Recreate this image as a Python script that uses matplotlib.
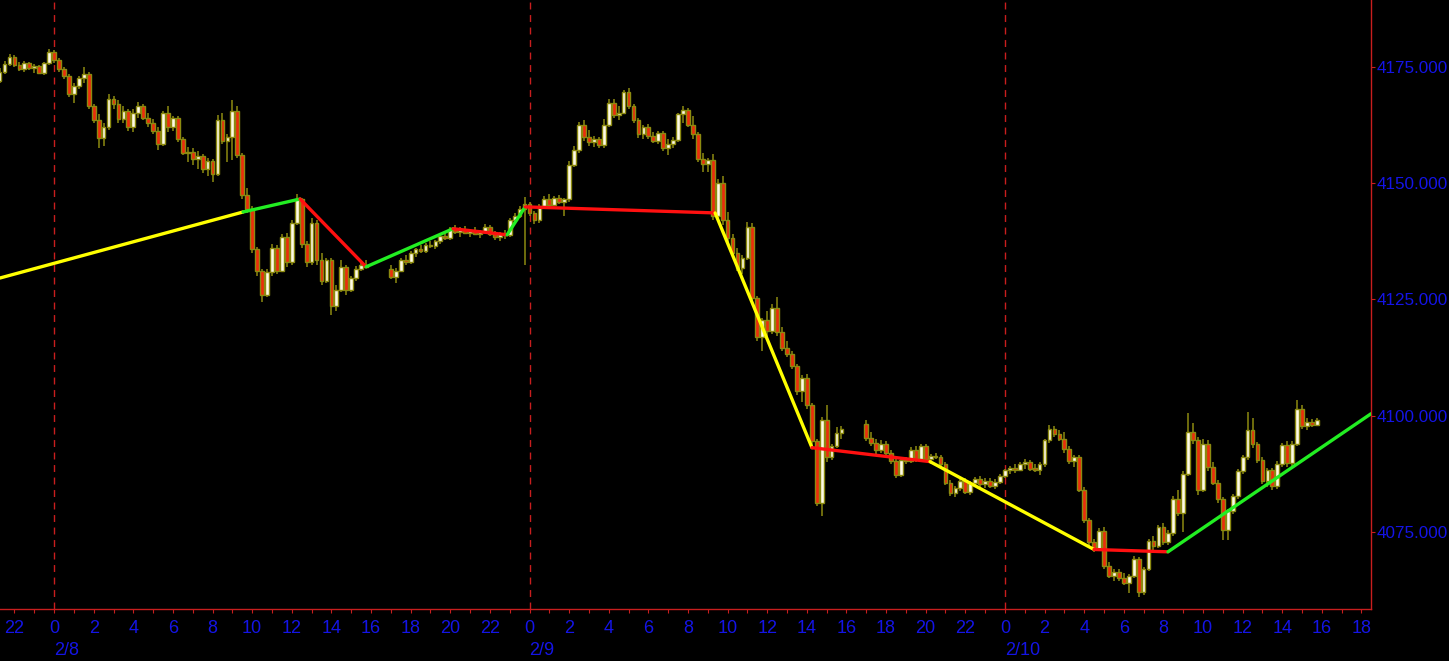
import numpy as np
import matplotlib
matplotlib.use("Agg")
import matplotlib.pyplot as plt
from matplotlib.transforms import blended_transform_factory

# time axis: hours counted from 2/8 00:00, 15-minute bars, three sessions
BAR = 0.25
session_start = [-2.75, 17.0, 41.0]

# session 1 (2/7 evening -> 2/8 16:00)
open_a = [4172.0, 4174.0, 4175.6, 4177.2, 4175.4, 4174.6, 4175.8, 4174.8, 4175.2, 4173.8,
          4175.8, 4178.2, 4176.4, 4174.5, 4173.0, 4169.2, 4171.0, 4172.6, 4173.5, 4166.5,
          4163.5, 4159.8, 4162.0, 4168.0, 4167.0, 4163.8, 4165.5, 4162.0, 4165.2, 4166.5,
          4164.0, 4163.0, 4161.2, 4158.5, 4165.0, 4162.0, 4164.0, 4159.5, 4156.5, 4156.8,
          4155.2, 4155.8, 4153.0, 4154.8, 4152.0, 4163.5, 4159.0, 4160.0, 4165.5, 4156.0,
          4147.5, 4144.5, 4135.8, 4131.0, 4126.0, 4130.8, 4136.0, 4131.2, 4138.5, 4133.0,
          4141.5, 4146.6, 4137.0, 4133.0, 4141.5, 4133.5, 4129.0, 4133.5, 4123.5, 4127.0,
          4132.0, 4127.0, 4129.5, 4131.5, 4132.5]
high_a = [4174.8, 4176.2, 4177.8, 4177.6, 4176.0, 4176.2, 4176.0, 4175.6, 4175.5, 4176.0,
          4178.8, 4178.6, 4177.0, 4175.0, 4173.4, 4171.5, 4173.0, 4175.0, 4174.0, 4167.0,
          4164.8, 4163.0, 4169.2, 4168.8, 4167.8, 4166.5, 4166.0, 4166.0, 4167.5, 4167.0,
          4165.0, 4163.8, 4162.0, 4165.5, 4166.5, 4164.5, 4164.4, 4160.0, 4157.8, 4157.5,
          4157.0, 4156.3, 4155.5, 4155.2, 4164.6, 4165.0, 4160.5, 4167.8, 4166.5, 4156.5,
          4149.0, 4145.0, 4136.3, 4131.5, 4131.5, 4137.0, 4136.8, 4139.0, 4139.2, 4142.0,
          4147.6, 4146.8, 4137.5, 4142.5, 4142.0, 4135.0, 4134.0, 4134.0, 4128.0, 4133.5,
          4132.5, 4130.0, 4132.2, 4133.0, 4133.4]
low_a = [4171.5, 4173.5, 4175.2, 4175.0, 4174.2, 4174.0, 4174.3, 4173.8, 4173.4, 4173.2,
         4175.5, 4175.8, 4174.0, 4172.4, 4168.5, 4167.3, 4170.2, 4171.5, 4166.0, 4163.0,
         4157.6, 4158.0, 4161.5, 4166.0, 4163.0, 4163.0, 4161.2, 4161.0, 4164.0, 4163.5,
         4162.0, 4160.6, 4157.2, 4158.0, 4161.0, 4161.2, 4158.8, 4156.0, 4154.5, 4154.0,
         4153.0, 4152.2, 4151.5, 4150.2, 4151.5, 4158.5, 4154.5, 4155.0, 4155.5, 4146.5,
         4143.5, 4135.0, 4130.0, 4124.5, 4125.5, 4130.0, 4130.5, 4130.8, 4132.0, 4132.5,
         4141.0, 4136.0, 4132.0, 4132.5, 4132.5, 4128.0, 4128.5, 4121.7, 4122.5, 4126.5,
         4126.0, 4126.5, 4129.0, 4131.0, 4131.8]
close_a = [4174.0, 4175.6, 4177.2, 4175.4, 4174.6, 4175.8, 4174.8, 4175.2, 4173.8, 4175.8,
           4178.2, 4176.4, 4174.5, 4173.0, 4169.2, 4171.0, 4172.6, 4173.5, 4166.5, 4163.5,
           4159.8, 4162.0, 4168.0, 4167.0, 4163.8, 4165.5, 4162.0, 4165.2, 4166.5, 4164.0,
           4163.0, 4161.2, 4158.5, 4165.0, 4162.0, 4164.0, 4159.5, 4156.5, 4156.8, 4155.2,
           4155.8, 4153.0, 4154.8, 4152.0, 4163.5, 4159.0, 4160.0, 4165.5, 4156.0, 4147.5,
           4144.5, 4135.8, 4131.0, 4126.0, 4130.8, 4136.0, 4131.2, 4138.5, 4133.0, 4141.5,
           4146.6, 4137.0, 4133.0, 4141.5, 4133.5, 4129.0, 4133.5, 4123.5, 4127.0, 4132.0,
           4127.0, 4129.5, 4131.5, 4132.5, 4132.0]

# session 2 (2/8 17:00 -> 2/9 16:00), one row per hour
open_b = [4131.5, 4129.8, 4131.2, 4133.5, 4133.0, 4135.0, 4135.8, 4135.5,
          4136.8, 4136.4, 4137.5, 4138.6, 4138.2, 4140.2, 4139.4, 4140.0,
          4139.3, 4139.8, 4139.0, 4139.6, 4140.6, 4139.0, 4138.4, 4139.0,
          4138.8, 4142.0, 4143.0, 4144.5, 4145.5, 4143.6, 4142.0, 4145.0,
          4146.5, 4145.4, 4146.8, 4146.0, 4146.5, 4154.0, 4157.2, 4162.5,
          4160.0, 4158.8, 4159.5, 4158.2, 4162.5, 4167.2, 4164.6, 4165.2,
          4169.6, 4166.6, 4163.5, 4160.5, 4162.0, 4160.2, 4159.0, 4160.8,
          4157.5, 4158.5, 4159.2, 4164.8, 4165.8, 4162.6, 4160.5, 4155.2,
          4154.2, 4155.0, 4143.0, 4150.0, 4142.0, 4138.2, 4135.0, 4131.8,
          4134.0, 4140.5, 4125.2, 4117.0, 4120.5, 4118.2, 4123.2, 4118.0,
          4114.6, 4113.2, 4110.6, 4105.2, 4108.0, 4102.2, 4094.5, 4081.2,
          4099.0, 4091.0, 4093.5, 4096.2]
high_b = [4132.5, 4131.8, 4133.8, 4134.5, 4135.5, 4136.0, 4136.8, 4137.2,
          4137.5, 4137.8, 4139.0, 4139.5, 4140.6, 4141.0, 4140.5, 4140.8,
          4140.2, 4140.5, 4140.0, 4141.2, 4141.0, 4139.8, 4139.5, 4140.0,
          4142.5, 4143.5, 4145.0, 4147.0, 4146.0, 4144.0, 4145.5, 4147.2,
          4147.6, 4147.2, 4147.5, 4146.8, 4154.8, 4158.0, 4163.2, 4163.5,
          4161.5, 4160.2, 4160.0, 4163.8, 4168.0, 4168.0, 4166.5, 4170.0,
          4170.5, 4167.0, 4164.0, 4162.5, 4162.8, 4161.0, 4161.2, 4161.2,
          4159.5, 4160.0, 4165.2, 4166.5, 4166.2, 4164.5, 4161.0, 4156.5,
          4155.5, 4156.2, 4151.0, 4151.5, 4143.8, 4139.0, 4136.0, 4134.5,
          4141.7, 4141.5, 4125.8, 4121.0, 4122.5, 4124.0, 4125.6, 4119.0,
          4116.0, 4114.0, 4111.0, 4108.8, 4109.0, 4102.8, 4095.0, 4099.8,
          4102.3, 4093.8, 4097.5, 4097.8]
low_b = [4129.3, 4128.6, 4130.8, 4132.5, 4132.6, 4134.2, 4135.0, 4135.0,
         4136.0, 4135.8, 4137.0, 4137.8, 4137.8, 4139.0, 4138.5, 4139.0,
         4138.4, 4138.8, 4138.2, 4139.0, 4138.6, 4137.8, 4137.5, 4138.0,
         4138.4, 4141.5, 4142.5, 4132.5, 4143.0, 4141.2, 4141.5, 4144.5,
         4145.0, 4145.0, 4145.5, 4143.0, 4146.0, 4153.5, 4156.5, 4159.0,
         4158.0, 4157.8, 4157.5, 4157.6, 4162.0, 4164.0, 4163.6, 4164.8,
         4166.0, 4163.0, 4159.8, 4159.5, 4159.5, 4158.6, 4158.5, 4157.0,
         4156.0, 4157.6, 4158.8, 4163.0, 4162.0, 4159.5, 4154.5, 4152.4,
         4152.5, 4142.0, 4142.5, 4141.0, 4137.0, 4134.0, 4131.0, 4130.5,
         4133.5, 4124.5, 4116.0, 4114.0, 4117.0, 4117.5, 4117.2, 4114.0,
         4112.5, 4110.0, 4104.5, 4103.0, 4101.5, 4093.0, 4080.5, 4078.3,
         4090.0, 4090.5, 4093.0, 4095.0]
close_b = [4129.8, 4131.2, 4133.5, 4133.0, 4135.0, 4135.8, 4135.5, 4136.8,
           4136.4, 4137.5, 4138.6, 4138.2, 4140.2, 4139.4, 4140.0, 4139.3,
           4139.8, 4139.0, 4139.6, 4140.6, 4139.0, 4138.4, 4139.0, 4138.8,
           4142.0, 4143.0, 4144.5, 4145.5, 4143.6, 4142.0, 4145.0, 4146.5,
           4145.4, 4146.8, 4146.0, 4146.5, 4154.0, 4157.2, 4162.5, 4160.0,
           4158.8, 4159.5, 4158.2, 4162.5, 4167.2, 4164.6, 4165.2, 4169.6,
           4166.6, 4163.5, 4160.5, 4162.0, 4160.2, 4159.0, 4160.8, 4157.5,
           4158.5, 4159.2, 4164.8, 4165.8, 4162.6, 4160.5, 4155.2, 4154.2,
           4155.0, 4143.0, 4150.0, 4142.0, 4138.2, 4135.0, 4131.8, 4134.0,
           4140.5, 4125.2, 4117.0, 4120.5, 4118.2, 4123.2, 4118.0, 4114.6,
           4113.2, 4110.6, 4105.2, 4108.0, 4102.2, 4094.5, 4081.2, 4099.0,
           4091.0, 4093.5, 4096.2, 4097.2]

# session 3 (2/9 17:00 -> 2/10 16:00), one row per hour
open_c = [4098.2, 4095.2, 4094.2, 4092.5, 4094.0, 4092.0, 4090.2, 4087.2,
          4090.5, 4090.2, 4092.6, 4090.6, 4093.5, 4090.6, 4091.4, 4091.0,
          4089.6, 4085.6, 4083.4, 4084.4, 4086.0, 4083.6, 4085.5, 4086.3,
          4085.2, 4086.0, 4084.8, 4085.8, 4087.0, 4088.2, 4088.8, 4088.4,
          4089.5, 4090.0, 4088.6, 4088.4, 4089.6, 4094.8, 4097.2, 4096.0,
          4095.0, 4092.8, 4090.2, 4091.2, 4084.0, 4077.5, 4072.8, 4071.4,
          4075.2, 4067.6, 4065.6, 4066.4, 4065.0, 4064.0, 4065.6, 4069.2,
          4062.0, 4067.0, 4073.0, 4072.0, 4076.0, 4072.8, 4074.8, 4082.0,
          4079.0, 4087.5, 4096.5, 4094.8, 4084.0, 4094.0, 4089.0, 4085.6,
          4082.0, 4075.5, 4079.5, 4082.6, 4088.0, 4091.0, 4097.0, 4093.8,
          4090.5, 4086.0, 4088.2, 4084.8, 4089.6, 4093.6, 4089.8, 4094.0,
          4101.5, 4097.8, 4098.6, 4098.0]
high_c = [4099.0, 4096.5, 4095.0, 4094.8, 4094.5, 4092.6, 4091.0, 4090.8,
          4091.2, 4093.2, 4093.5, 4094.0, 4094.0, 4091.8, 4092.0, 4091.5,
          4090.0, 4086.2, 4084.8, 4086.5, 4086.5, 4086.0, 4086.8, 4087.0,
          4086.5, 4086.6, 4086.4, 4087.5, 4088.6, 4089.2, 4089.6, 4090.0,
          4090.6, 4090.5, 4089.5, 4090.0, 4095.0, 4098.0, 4097.8, 4097.0,
          4096.5, 4093.5, 4091.6, 4091.6, 4084.6, 4078.0, 4073.5, 4075.8,
          4076.0, 4068.5, 4067.0, 4067.0, 4066.2, 4066.0, 4069.8, 4069.6,
          4067.5, 4073.5, 4074.0, 4076.5, 4076.8, 4075.5, 4082.6, 4084.0,
          4088.0, 4100.6, 4098.5, 4095.5, 4095.0, 4094.8, 4090.0, 4086.2,
          4082.5, 4080.0, 4083.2, 4088.5, 4091.5, 4100.8, 4099.5, 4094.3,
          4091.0, 4088.8, 4088.8, 4090.2, 4094.2, 4094.5, 4094.5, 4103.4,
          4102.2, 4099.4, 4099.2, 4099.4]
low_c = [4094.5, 4093.5, 4091.8, 4092.0, 4091.5, 4089.5, 4086.6, 4086.8,
         4089.6, 4089.8, 4090.0, 4090.2, 4090.0, 4089.6, 4090.6, 4089.0,
         4085.0, 4082.8, 4082.5, 4083.8, 4083.2, 4083.0, 4084.8, 4084.6,
         4084.5, 4084.4, 4084.2, 4085.2, 4086.5, 4087.4, 4087.6, 4088.0,
         4088.6, 4088.0, 4087.8, 4087.2, 4089.0, 4094.2, 4095.5, 4094.5,
         4092.0, 4089.5, 4089.0, 4083.5, 4077.0, 4072.0, 4070.6, 4071.0,
         4067.0, 4065.0, 4064.4, 4064.5, 4063.5, 4061.8, 4065.0, 4060.9,
         4061.5, 4066.5, 4071.0, 4071.5, 4072.2, 4072.2, 4074.2, 4078.5,
         4075.0, 4087.0, 4094.0, 4083.0, 4083.5, 4088.0, 4085.0, 4081.2,
         4073.3, 4073.2, 4078.8, 4082.0, 4087.5, 4090.5, 4093.0, 4089.8,
         4085.2, 4084.6, 4084.0, 4084.2, 4089.0, 4089.0, 4089.2, 4093.5,
         4097.2, 4097.0, 4097.6, 4097.8]
close_c = [4095.2, 4094.2, 4092.5, 4094.0, 4092.0, 4090.2, 4087.2, 4090.5,
           4090.2, 4092.6, 4090.6, 4093.5, 4090.6, 4091.4, 4091.0, 4089.6,
           4085.6, 4083.4, 4084.4, 4086.0, 4083.6, 4085.5, 4086.3, 4085.2,
           4086.0, 4084.8, 4085.8, 4087.0, 4088.2, 4088.8, 4088.4, 4089.5,
           4090.0, 4088.6, 4088.4, 4089.6, 4094.8, 4097.2, 4096.0, 4095.0,
           4092.8, 4090.2, 4091.2, 4084.0, 4077.5, 4072.8, 4071.4, 4075.2,
           4067.6, 4065.6, 4066.4, 4065.0, 4064.0, 4065.6, 4069.2, 4062.0,
           4067.0, 4073.0, 4072.0, 4076.0, 4072.8, 4074.8, 4082.0, 4079.0,
           4087.5, 4096.5, 4094.8, 4084.0, 4094.0, 4089.0, 4085.6, 4082.0,
           4075.5, 4079.5, 4082.6, 4088.0, 4091.0, 4097.0, 4093.8, 4090.5,
           4086.0, 4088.2, 4084.8, 4089.6, 4093.6, 4089.8, 4094.0, 4101.5,
           4097.8, 4098.6, 4098.0, 4099.0]

# zigzag overlay: pivots (hour, price) and colour of each leg
zz_hours = [-2.73, 9.54, 12.42, 15.75, 20.14, 22.87, 23.78, 33.37, 38.26, 44.22, 52.50, 56.23, 66.48]
zz_prices = [4129.6, 4143.8, 4146.6, 4132.0, 4140.2, 4138.9, 4144.9, 4143.6, 4093.1, 4090.1, 4071.2, 4070.7, 4100.4]
zz_colors = ["#ffff00", "#22ee22", "#ff1010", "#22ee22", "#ff1010", "#22ee22",
             "#ff1010", "#ffff00", "#ff1010", "#ffff00", "#ff1010", "#22ee22"]

day_starts = [0, 24, 48]
day_labels = ["2/8", "2/9", "2/10"]
y_ticks = [4075, 4100, 4125, 4150, 4175]

UP_FILL = "#fffbe6"
DOWN_FILL = "#ec2c0c"
EDGE = "#8c8a10"
AXIS_RED = "#c81e1e"
BLUE = "#1414e6"
FONT = "Liberation Sans"

fig = plt.figure(figsize=(14.49, 6.61), dpi=100, facecolor="black")
ax = fig.add_axes([0, 52 / 661, 1371 / 1449, 609 / 661])
ax.set_facecolor("black")

sessions = [(open_a, high_a, low_a, close_a),
            (open_b, high_b, low_b, close_b),
            (open_c, high_c, low_c, close_c)]
for start, (o, h, l, c) in zip(session_start, sessions):
    o, h, l, c = map(np.asarray, (o, h, l, c))
    t = start + BAR * np.arange(len(c))
    ax.vlines(t, l, h, color=EDGE, lw=1.1, zorder=2)
    up = c >= o
    body = np.maximum(np.abs(c - o), 0.3)
    ax.bar(t, body, bottom=np.minimum(o, c), width=0.19,
           color=np.where(up, UP_FILL, DOWN_FILL), edgecolor=EDGE,
           linewidth=1.0, zorder=3)

for i, col in enumerate(zz_colors):
    ax.plot(zz_hours[i:i + 2], zz_prices[i:i + 2], color=col, lw=2.4,
            solid_capstyle="round", zorder=4)

for d in day_starts:
    ax.axvline(d, color=AXIS_RED, lw=1, ls=(0, (5, 4)), zorder=1)

ax.set_xlim(-2.73, 66.48)
ax.set_ylim(4058.4, 4189.4)

for side in ["top", "left"]:
    ax.spines[side].set_visible(False)
for side in ["right", "bottom"]:
    ax.spines[side].set_color(AXIS_RED)
    ax.spines[side].set_linewidth(1.0)

ax.yaxis.tick_right()
ax.set_yticks(y_ticks)
ax.set_yticklabels([f"{v:.3f}" for v in y_ticks])
hours = np.arange(-2, 67, 1)
ax.set_xticks(hours)
ax.set_xticklabels([str(int(x) % 24) if x % 2 == 0 else "" for x in hours])
ax.tick_params(axis="y", colors=AXIS_RED, labelcolor=BLUE, length=3, pad=1,
               labelsize=12.3, labelfontfamily=FONT)
ax.tick_params(axis="x", colors=AXIS_RED, labelcolor=BLUE, length=3, pad=5,
               labelsize=13, labelfontfamily=FONT)

trans = blended_transform_factory(ax.transData, ax.transAxes)
for d, lab in zip(day_starts, day_labels):
    ax.text(d, -0.055, lab, transform=trans, ha="left", va="top",
            color=BLUE, fontsize=13, family=FONT)

fig.savefig("out.png", dpi=100, facecolor="black")
